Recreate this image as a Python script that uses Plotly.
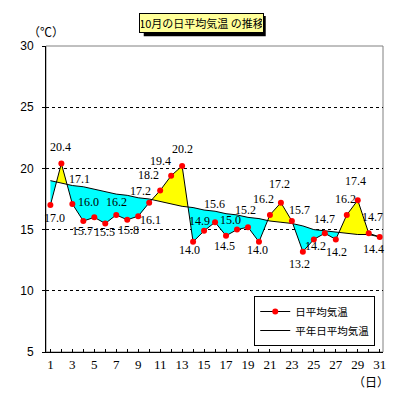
import plotly.graph_objects as go

days = list(range(1, 32))
daily_mean = [17.0, 20.4, 17.1, 15.7, 16.0, 15.5, 16.2, 15.8, 16.1, 17.2,
              18.2, 19.4, 20.2, 14.0, 14.9, 15.6, 14.5, 15.0, 15.2, 14.0,
              16.2, 17.2, 15.7, 13.2, 14.2, 14.7, 14.2, 16.2, 17.4, 14.7, 14.4]
normal_mean = [19.0, 18.8, 18.6, 18.5, 18.3, 18.1, 17.9, 17.8, 17.6, 17.5,
               17.3, 17.1, 16.9, 16.8, 16.6, 16.5, 16.3, 16.2, 16.0, 15.9,
               15.7, 15.6, 15.5, 15.3, 15.0, 14.9, 14.8, 14.7, 14.6, 14.6, 14.4]
# label offsets in pixels (x right, y up) relative to each point
label_dx = [4, -1, 7, -1, -6, -1, 0, 1, 12, -9,
            -12, -11, 0, -4, -5, -1, -2, -7, -2, -1,
            -6, -1, 8, -3, 2, 0, 1, -1, -2, 4, -6]
label_dy = [-13, 17, 25, -10, 15, -9, 13, -10, -4, 12,
            15, 15, 17, -8, 10, 18, -10, 10, 17, -8,
            16, 19, 11, -12, -7, 14, -13, 16, 19, 16, -12]
x_ticks = list(range(1, 32, 2))
y_ticks = [5, 10, 15, 20, 25, 30]

title_text = "10月の日平均気温 の推移"
name_daily = "日平均気温"
name_normal = "平年日平均気温"

# ---- build fill polygons between the two curves (with crossing points) ----
aug = []
for i in range(len(days)):
    aug.append((days[i], daily_mean[i], normal_mean[i]))
    if i < len(days) - 1:
        d0 = daily_mean[i] - normal_mean[i]
        d1 = daily_mean[i + 1] - normal_mean[i + 1]
        if d0 * d1 < 0:
            t = d0 / (d0 - d1)
            xc = days[i] + t
            yc = normal_mean[i] + t * (normal_mean[i + 1] - normal_mean[i])
            aug.append((xc, yc, yc))

polys = []
cur = None
for j in range(len(aug) - 1):
    s = (aug[j][1] - aug[j][2]) + (aug[j + 1][1] - aug[j + 1][2])
    sign = 1 if s > 0 else -1
    if cur is None or cur[0] != sign:
        if cur is not None:
            polys.append(cur)
        cur = [sign, [aug[j]]]
    cur[1].append(aug[j + 1])
if cur is not None:
    polys.append(cur)

fig = go.Figure()
for sign, pts in polys:
    xs = [p[0] for p in pts] + [p[0] for p in reversed(pts)]
    ys = [p[1] for p in pts] + [p[2] for p in reversed(pts)]
    fig.add_trace(go.Scatter(
        x=xs, y=ys, fill="toself", mode="none",
        fillcolor="#FFFF00" if sign > 0 else "#00FFFF",
        showlegend=False, hoverinfo="skip"))

fig.add_trace(go.Scatter(
    x=days, y=normal_mean, mode="lines", name=name_normal,
    line=dict(color="black", width=1)))
fig.add_trace(go.Scatter(
    x=days, y=daily_mean, mode="lines+markers", name=name_daily,
    line=dict(color="black", width=1),
    marker=dict(color="#FF0000", size=6)))

annotations = []
for d, v, dx, dy in zip(days, daily_mean, label_dx, label_dy):
    annotations.append(dict(
        x=d, y=v, xref="x", yref="y", text=f"{v:.1f}", showarrow=False,
        xanchor="center", yanchor="middle", xshift=dx, yshift=dy,
        font=dict(family="Liberation Serif", size=12, color="black")))

# plot frame (gray top/right)
fig.add_shape(type="rect", xref="paper", yref="paper", x0=0, y0=0, x1=1, y1=1,
              line=dict(color="#808080", width=1), layer="below")
# title shadow
fig.add_shape(type="rect", xref="paper", yref="paper",
              x0=0.290, x1=0.652, y0=1.032, y1=1.098,
              line=dict(color="black", width=0), fillcolor="black", layer="above")

annotations += [
    dict(text=title_text, xref="paper", yref="paper", x=0.462, y=1.075,
         xanchor="center", yanchor="middle", showarrow=False,
         width=121, height=16,
         font=dict(family="Noto Sans CJK JP", size=11, color="black"),
         bgcolor="#FFFF99", bordercolor="black", borderwidth=1, borderpad=1),
    dict(text="（℃）", xref="paper", yref="paper", x=0.0, y=1.046,
         xanchor="center", yanchor="middle", showarrow=False,
         font=dict(family="Noto Sans CJK JP", size=12, color="black")),
    dict(text="（日）", xref="paper", yref="paper", x=0.965, y=-0.098,
         xanchor="center", yanchor="middle", showarrow=False,
         font=dict(family="Noto Sans CJK JP", size=12, color="black")),
]

fig.update_layout(
    width=391, height=392,
    margin=dict(l=30, r=16, t=38, b=48),
    paper_bgcolor="white", plot_bgcolor="white",
    showlegend=True,
    legend=dict(x=0.977, y=0.183, xanchor="right", yanchor="top",
                bgcolor="white", bordercolor="black", borderwidth=1,
                font=dict(family="Noto Sans CJK JP", size=10.5, color="black"),
                traceorder="reversed", itemwidth=30, tracegroupgap=0),
    xaxis=dict(range=[0.6, 31.3], tickmode="array", tickvals=days,
               ticktext=[str(d) if d in x_ticks else "" for d in days],
               ticks="inside", ticklen=3, tickcolor="black",
               showline=True, linecolor="black", linewidth=1,
               showgrid=False, zeroline=False,
               tickfont=dict(family="Liberation Serif", size=13, color="black")),
    yaxis=dict(range=[5, 30], tickmode="array", tickvals=y_ticks,
               ticks="outside", ticklen=3, tickcolor="black",
               showline=True, linecolor="black", linewidth=1,
               showgrid=True, gridcolor="black", griddash="3px,3px", gridwidth=1,
               zeroline=False, ticklabelstandoff=6,
               tickfont=dict(family="Liberation Sans", size=12, color="black")),
    annotations=annotations,
)

fig.write_html("out.html")
